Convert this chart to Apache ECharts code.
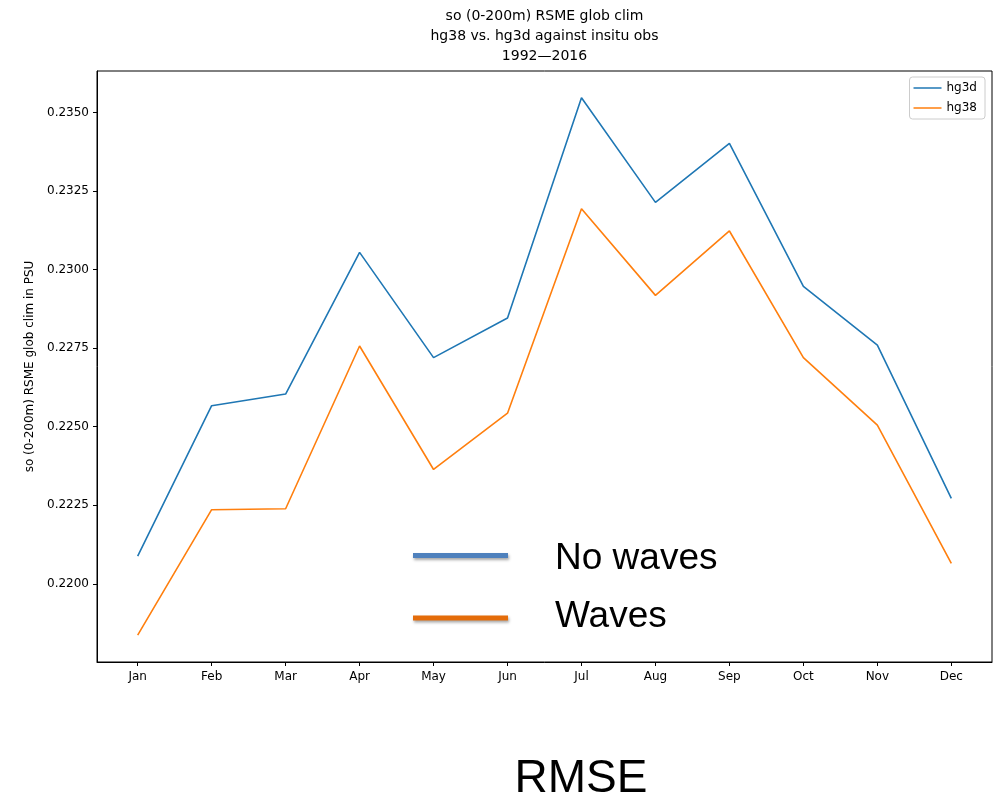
<!DOCTYPE html>
<html>
<head>
<meta charset="utf-8">
<script src="https://cdn.jsdelivr.net/npm/echarts@6/dist/echarts.min.js"></script>
<style>html,body{margin:0;padding:0;background:#fff}#c{width:1000px;height:799px}</style>
</head>
<body>
<div id="c"></div>
<script>
const months = ['Jan','Feb','Mar','Apr','May','Jun','Jul','Aug','Sep','Oct','Nov','Dec'];
const hg3d = [0.22088,0.22567,0.22604,0.23055,0.22720,0.22846,0.23547,0.23214,0.23402,0.22947,0.22760,0.22272];
const hg38 = [0.21837,0.22236,0.22239,0.22757,0.22364,0.22543,0.23194,0.22918,0.23123,0.22720,0.22505,0.22065];
const yTicks = [0.2200,0.2225,0.2250,0.2275,0.2300,0.2325,0.2350];
const titleLines = ['so (0-200m) RSME glob clim','hg38 vs. hg3d against insitu obs','1992\u20142016'];

const chart = echarts.init(document.getElementById('c'), null, {renderer:'canvas'});
const font = 'DejaVu Sans';
const xIdx = months.map((m,i)=>i);
const legendIcon = 'path://M0,4.25L28,4.25L28,5.75L0,5.75Z';
chart.setOption({
  animation:false,
  backgroundColor:'#fff',
  textStyle:{fontFamily:font},
  grid:{left:97,right:8,top:71,bottom:137,show:true,borderColor:'#000',borderWidth:1,containLabel:false},
  legend:{
    orient:'vertical', right:15, top:77,
    backgroundColor:'#fff', borderColor:'#cccccc', borderWidth:1, borderRadius:3,
    padding:[5,8,5,4], itemGap:8, itemWidth:28, itemHeight:10,
    textStyle:{fontFamily:font,fontSize:12,color:'#000'},
    data:[{name:'hg3d',icon:legendIcon},{name:'hg38',icon:legendIcon}]
  },
  xAxis:{
    type:'value', min:-0.55, max:11.55,
    splitLine:{show:false},
    axisLine:{show:true,onZero:false,lineStyle:{color:'#000',width:1}},
    axisTick:{show:true,customValues:xIdx,length:4,lineStyle:{color:'#000'}},
    axisLabel:{customValues:xIdx,formatter:v=>months[Math.round(v)],color:'#000',fontSize:12,fontFamily:font,margin:9}
  },
  yAxis:{
    type:'value', min:0.217513, max:0.236321,
    name:'so (0-200m) RSME glob clim in PSU', nameLocation:'middle', nameGap:61,
    nameTextStyle:{color:'#000',fontSize:12,fontFamily:font},
    splitLine:{show:false},
    axisLine:{show:true,onZero:false,lineStyle:{color:'#000',width:1}},
    axisTick:{show:true,customValues:yTicks,length:4,lineStyle:{color:'#000'}},
    axisLabel:{customValues:yTicks,formatter:v=>v.toFixed(4),color:'#000',fontSize:12,fontFamily:font,margin:8}
  },
  series:[
    {name:'hg3d',type:'line',data:hg3d.map((v,i)=>[i,v]),showSymbol:false,symbol:'none',lineStyle:{color:'#1f77b4',width:1.6},itemStyle:{color:'#1f77b4'}},
    {name:'hg38',type:'line',data:hg38.map((v,i)=>[i,v]),showSymbol:false,symbol:'none',lineStyle:{color:'#ff7f0e',width:1.6},itemStyle:{color:'#ff7f0e'}}
  ],
  graphic:[
    ...titleLines.map((t,i)=>({type:'text',x:544.5,y:16+i*20,style:{text:t,fill:'#000',font:'14px "DejaVu Sans"',align:'center',verticalAlign:'middle'}})),
    {type:'line',shape:{x1:413,y1:555.5,x2:508,y2:555.5},style:{stroke:'#4f81bd',lineWidth:5,shadowBlur:3,shadowColor:'rgba(0,0,0,0.35)',shadowOffsetX:1,shadowOffsetY:2}},
    {type:'line',shape:{x1:413,y1:618,x2:508,y2:618},style:{stroke:'#e46c0a',lineWidth:5,shadowBlur:3,shadowColor:'rgba(0,0,0,0.35)',shadowOffsetX:1,shadowOffsetY:2}},
    {type:'text',x:555,y:559,style:{text:'No waves',fill:'#000',font:'37px "Liberation Sans"',align:'left',verticalAlign:'middle'}},
    {type:'text',x:555,y:617,style:{text:'Waves',fill:'#000',font:'37px "Liberation Sans"',align:'left',verticalAlign:'middle'}},
    {type:'text',x:581,y:779,style:{text:'RMSE',fill:'#000',font:'46px "Liberation Sans"',align:'center',verticalAlign:'middle'}}
  ]
});
</script>
</body>
</html>
